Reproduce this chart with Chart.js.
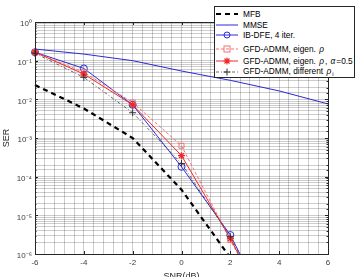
<!DOCTYPE html>
<html>
<head>
<meta charset="utf-8">
<script src="https://cdn.jsdelivr.net/npm/chart.js@4.4.0/dist/chart.umd.min.js"></script>
<style>
body{margin:0;background:#fff;}
#wrap{position:relative;width:357px;height:277px;overflow:hidden;}
#legend{position:absolute;left:214px;top:6px;width:141px;height:72px;border:1px solid #262626;background:#fff;box-sizing:border-box;font:8.3px 'Liberation Sans',Arial,sans-serif;color:#000;}
.row{position:absolute;left:0;height:10px;display:flex;align-items:center;white-space:nowrap;}
.row svg{margin-right:3px;flex:none;}
.row i{margin:0 1px;}
.row sub{font-size:6px;vertical-align:-2px;}
</style>
</head>
<body>
<div id="wrap">
<canvas id="canvas" width="357" height="277"></canvas>
<div id="legend">
 <div class="row" style="top:2.3px"><svg width="25" height="10"><line x1="1" y1="5" x2="23" y2="5" stroke="#000" stroke-width="2" stroke-dasharray="5,4"/></svg><span>MFB</span></div>
 <div class="row" style="top:13px"><svg width="25" height="10"><line x1="1" y1="5" x2="23" y2="5" stroke="#2a2ad8" stroke-width="1"/></svg><span>MMSE</span></div>
 <div class="row" style="top:23.3px"><svg width="25" height="10"><line x1="1" y1="5" x2="23" y2="5" stroke="#2a2ad8" stroke-width="1"/><circle cx="12" cy="5" r="3" fill="none" stroke="#2a2ad8" stroke-width="1"/></svg><span>IB-DFE, 4 iter.</span></div>
 <div class="row" style="top:37px"><svg width="25" height="10"><line x1="1" y1="5" x2="23" y2="5" stroke="#f47070" stroke-width="1" stroke-dasharray="3,2"/><rect x="9" y="2" width="6" height="6" fill="none" stroke="#f47070" stroke-width="1"/></svg><span>GFD-ADMM, eigen. <i>&rho;</i></span></div>
 <div class="row" style="top:48.5px"><svg width="25" height="10"><line x1="1" y1="5" x2="23" y2="5" stroke="#f02828" stroke-width="1"/><path d="M12 1.5V8.5M8.5 5H15.5M9.5 2.5L14.5 7.5M14.5 2.5L9.5 7.5" stroke="#f02828" stroke-width="1.2"/></svg><span>GFD-ADMM, eigen. <i>&rho;</i>, <i>&alpha;</i>=0.5</span></div>
 <div class="row" style="top:59.7px"><svg width="25" height="10"><line x1="1" y1="5" x2="23" y2="5" stroke="#444" stroke-width="0.8" stroke-dasharray="3,2,1,2"/><path d="M12 1.5V8.5M8.5 5H15.5" stroke="#333" stroke-width="1"/></svg><span>GFD-ADMM, different <i>&rho;</i><sub>i</sub></span></div>
</div>
</div>
<script>
// SNR points (dB)
var snr = [-6, -4, -2, 0, 2, 4, 6];

// SER curves
var mfb   = [0.0235, 0.0058, 0.001, 4.6e-5, 8e-7, null, null];
var mmse  = [0.2, 0.148, 0.1, 0.054, 0.031, 0.0165, 0.0076];
var ibdfe = [0.165, 0.063, 0.0072, 1.8e-4, 3.1e-6, 1e-8, null];
var eigen = [0.165, 0.05, 0.0083, 6.3e-4, 2.3e-6, 1e-8, null];
var alpha = [0.165, 0.045, 0.0072, 3.5e-4, 2.5e-6, 1e-8, null];
var diffr = [0.155, 0.037, 0.0045, 2.2e-4, 2.8e-6, 1e-8, null];

var xTickLabels = [-6, -4, -2, 0, 2, 4, 6];
var yTickLabels = {1: '10\u2070', 0.1: '10\u207B\u00B9', 0.01: '10\u207B\u00B2', 0.001: '10\u207B\u00B3',
	0.0001: '10\u207B\u2074', 0.00001: '10\u207B\u2075', 0.000001: '10\u207B\u2076'};

function pts(vals){
	return snr.map(function(s, i){ return {x: s, y: vals[i]}; });
}

var font = {family: "'Liberation Sans', Arial, sans-serif", size: 8};
var clipBox = {left: 6, top: 0, right: 0, bottom: 0};

var boxPlugin = {
	id: 'box',
	afterDraw: function(chart){
		var a = chart.chartArea, c = chart.ctx;
		var xs = chart.scales.x, ys = chart.scales.y;
		c.save();
		c.strokeStyle = '#262626';
		c.lineWidth = 1;
		c.strokeRect(Math.round(a.left) + 0.5, Math.round(a.top) + 0.5, Math.round(a.right - a.left), Math.round(a.bottom - a.top));
		c.beginPath();
		xTickLabels.forEach(function(v){
			var px = Math.round(xs.getPixelForValue(v)) + 0.5;
			c.moveTo(px, a.bottom); c.lineTo(px, a.bottom - 3);
			c.moveTo(px, a.top); c.lineTo(px, a.top + 3);
		});
		ys.ticks.forEach(function(t){
			var py = Math.round(ys.getPixelForValue(t.value)) + 0.5;
			var len = yTickLabels[t.value] ? 3 : 1.5;
			c.moveTo(a.left, py); c.lineTo(a.left + len, py);
			c.moveTo(a.right, py); c.lineTo(a.right - len, py);
		});
		c.stroke();
		c.restore();
	}
};

var config = {
	type: 'line',
	data: {
		datasets: [{
			label: 'MFB',
			data: pts(mfb),
			borderColor: '#000',
			borderWidth: 2.2,
			borderDash: [5, 4],
			pointRadius: 0,
			order: 6
		}, {
			label: 'MMSE',
			data: pts(mmse),
			borderColor: '#2a2ad8',
			borderWidth: 1,
			pointRadius: 0,
			order: 5
		}, {
			label: 'IB-DFE, 4 iter.',
			data: pts(ibdfe),
			borderColor: '#2a2ad8',
			borderWidth: 1,
			pointStyle: 'circle',
			pointRadius: 3.5,
			pointBorderWidth: 1,
			pointBackgroundColor: 'rgba(0,0,0,0)',
			order: 4
		}, {
			label: 'GFD-ADMM, eigen. \u03C1',
			data: pts(eigen),
			borderColor: '#f47070',
			borderWidth: 1,
			borderDash: [3, 2],
			pointStyle: 'rect',
			pointRadius: 3.5,
			pointBorderWidth: 1,
			pointBackgroundColor: 'rgba(0,0,0,0)',
			order: 3
		}, {
			label: 'GFD-ADMM, eigen. \u03C1, \u03B1=0.5',
			data: pts(alpha),
			borderColor: '#f02828',
			borderWidth: 1,
			pointStyle: 'star',
			pointRadius: 3.5,
			pointBorderWidth: 1.3,
			pointBackgroundColor: '#f02828',
			order: 2
		}, {
			label: 'GFD-ADMM, different \u03C1i',
			data: pts(diffr),
			borderColor: '#444',
			borderWidth: 0.8,
			borderDash: [3, 2, 1, 2],
			pointStyle: 'cross',
			pointRadius: 3.5,
			pointBorderWidth: 1,
			pointBorderColor: '#333',
			order: 1
		}]
	},
	options: {
		animation: false,
		responsive: false,
		layout: {padding: {top: 22, right: 29, left: 0, bottom: 0}},
		datasets: {line: {clip: clipBox, tension: 0, spanGaps: false}},
		plugins: {legend: {display: false}, tooltip: {enabled: false}},
		scales: {
			x: {
				type: 'linear',
				min: -6,
				max: 6,
				afterBuildTicks: function(s){
					var t = [];
					for (var i = 0; i <= 30; i++) t.push({value: -6 + i * 0.4});
					s.ticks = t;
				},
				afterFit: function(s){ s.height = 23; },
				ticks: {
					autoSkip: false,
					maxRotation: 0,
					padding: 4,
					color: '#404040',
					font: font,
					callback: function(v){
						var r = Math.round(v);
						return (Math.abs(v - r) < 1e-6 && xTickLabels.indexOf(r) >= 0) ? String(r) : '';
					}
				},
				grid: {
					drawTicks: false,
					color: 'rgba(0,0,0,0.2)',
					borderDash: [1, 2]
				},
				border: {display: false},
				title: {display: true, text: 'SNR(dB)', color: '#262626', font: {family: font.family, size: 9}, padding: {top: 0, bottom: -5}}
			},
			y: {
				type: 'logarithmic',
				min: 1e-6,
				max: 1,
				afterFit: function(s){ s.width = 35; },
				ticks: {
					autoSkip: false,
					padding: 3,
					labelOffset: 2,
					color: '#404040',
					font: font,
					callback: function(v){ return yTickLabels[v] || ''; }
				},
				grid: {
					drawTicks: false,
					color: 'rgba(0,0,0,0.2)',
					borderDash: [1, 2]
				},
				border: {display: false},
				title: {display: true, text: 'SER', color: '#262626', font: {family: font.family, size: 9}, padding: {top: 1, bottom: 0}}
			}
		}
	},
	plugins: [boxPlugin]
};

var myChart = new Chart(document.getElementById('canvas'), config);
</script>
</body>
</html>
